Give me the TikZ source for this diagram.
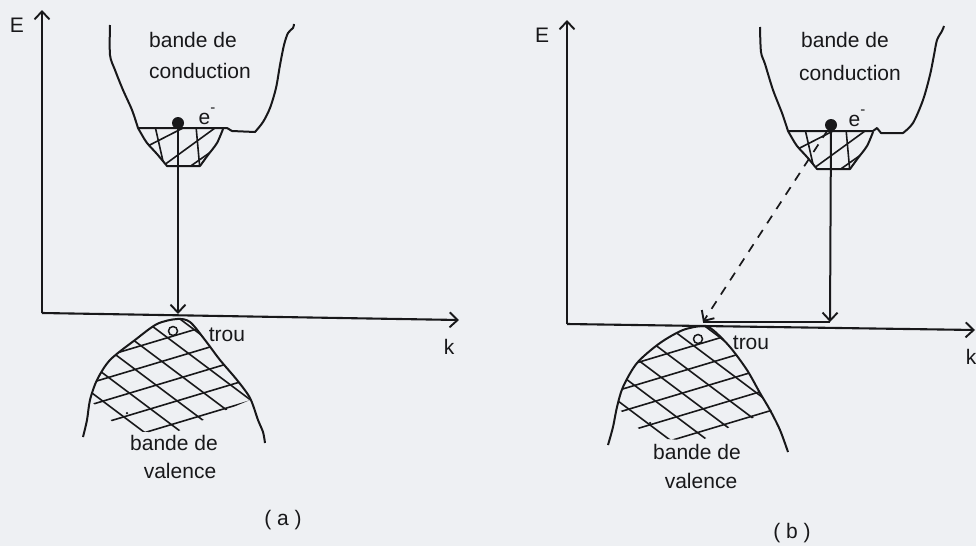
\documentclass[tikz,border=0pt]{standalone}
\usepackage{fontspec}
\setmainfont{Liberation Sans}
\usetikzlibrary{arrows.meta}
\definecolor{bgc}{RGB}{238,240,243}
\definecolor{ink}{RGB}{24,24,26}
\newcommand{\drawpocket}[2]{%
  \begin{scope}[shift={(#1,#2)}]
    \begin{scope}
      \clip plot[smooth] coordinates {(0,0) (4,7) (9,15) (19,26) (29,38)} -- (62,38) -- plot[smooth] coordinates {(62,38) (70,27) (79,15) (85,1)} -- cycle;
      \draw[hatch] (2,22) -- (47,-1);
      \draw[hatch] (22,40) -- (77,0);
      \draw[hatch] (47,42) -- (97,7);
      \draw[hatch] (17,-2) -- (27,42);
      \draw[hatch] (58,-2) -- (62,42);
    \end{scope}
    \draw[band] plot[smooth] coordinates {(0,0) (4,7) (9,15) (19,26) (29,38)} -- (62,38) -- plot[smooth] coordinates {(62,38) (70,27) (79,15) (85,1)};
  \end{scope}}
\newcommand{\valgrid}{%
  \foreach \c in {300,322,...,560} \draw[hatch] (60,\c-18) -- (300,\c-90);
  \foreach \c in {100,128,...,420} \draw[hatch] (60,\c+45) -- (300,\c+225);}
\begin{document}
\begin{tikzpicture}[x=1pt,y=-1pt,color=ink,
  band/.style={line width=2pt, line join=round},
  axis/.style={line width=2.1pt},
  hatch/.style={line width=1.6pt},
  barb/.style={-{Straight Barb[length=8pt,width=15pt,line width=1.9pt]}},
  dashline/.style={line width=1.7pt, dash pattern=on 9pt off 8pt},
  lab/.style={font=\fontsize{21}{24}\selectfont, inner sep=0pt, text=ink},
  dotn/.style={circle, fill=ink, inner sep=0pt, minimum size=12pt},
  holen/.style={circle, draw=ink, line width=1.5pt, inner sep=0pt, minimum size=9pt},
  speck/.style={circle, fill=ink, inner sep=0pt, minimum size=2.5pt}]
\fill[bgc] (0,0) rectangle (976,546);
\useasboundingbox (0,0) rectangle (976,546);

% ---------------- panel (a) ----------------
\coordinate (Oa) at (42,313);
\coordinate (Ea) at (42,10);
\coordinate (Ka) at (459,320);
\draw[axis,barb] (Oa) -- (Ea);
\draw[axis,barb] (Oa) -- (Ka);
\node[lab] (Ela) at (17,25) {E};
\node[lab] (kla) at (449,347) {k};

% conduction band (a)
\draw[band] plot[smooth, tension=0.5] coordinates {(110,25) (110,55) (115,70) (123,90) (132,110) (138,128)}
  -- (227,128) -- (232,131) -- (255,132)
  -- plot[smooth, tension=0.5] coordinates {(255,132) (263,122) (270,108) (276,88) (280,65) (284,45) (288,33) (293,28) (294,24)};
\drawpocket{138}{128}
\node[lab] (bca1) at (193,40) {bande de};
\node[lab] (bca2) at (200,71) {conduction};
\node[dotn] (ea) at (178,123) {};
\node[lab] (ema) at (207,116) {e\raisebox{1.1ex}{\fontsize{15}{15}\selectfont -}};
\coordinate (ta) at (178,314);
\draw[band,barb] (ea) -- (ta);

% valence band (a)
\begin{scope}
  \clip plot[smooth] coordinates {(90,400) (97,380) (110,360) (135,340) (157,324) (177,319) (190,322) (205,340) (220,360) (237,380) (250,400)} -- (219,413) -- (174,433) -- (122,431) -- cycle;
  \valgrid
\end{scope}
\draw[band] plot[smooth] coordinates {(83,437) (87,420) (90,400) (97,380) (110,360) (135,340) (157,324) (177,319) (190,322) (205,340) (220,360) (237,380) (250,398) (258,420) (263,432) (265,443)};
\node[holen] (ha) at (173,331) {};
\node[speck] (spa) at (127,413) {};
\node[lab] (tra) at (227,335) {trou};
\node[lab] (bva1) at (174,443) {bande de};
\node[lab] (bva2) at (180,471) {valence};
\node[lab] (pa) at (283,520) {( a )};

% ---------------- panel (b) ----------------
\coordinate (Ob) at (567,324);
\coordinate (Eb) at (567,20);
\coordinate (Kb) at (975,330);
\draw[axis,barb] (Ob) -- (Eb);
\draw[axis,barb] (Ob) -- (Kb);
\node[lab] (Elb) at (542,35) {E};
\node[lab] (klb) at (971,357) {k};

% conduction band (b)
\draw[band] plot[smooth, tension=0.5] coordinates {(760,27) (761,52) (765,64) (773,90) (782,113) (788,131)}
  -- (873,131) -- (877,128) -- (881,133) -- (903,133)
  -- plot[smooth, tension=0.5] coordinates {(903,133) (913,123) (923,100) (930,75) (934,55) (937,40) (942,31) (944,26)};
\drawpocket{788}{131}
\node[lab] (bcb1) at (845,40) {bande de};
\node[lab] (bcb2) at (850,73) {conduction};
\node[dotn] (eb) at (831,125) {};
\node[lab] (emb) at (857,118) {e\raisebox{1.1ex}{\fontsize{15}{15}\selectfont -}};
\coordinate (tb) at (830,322);
\coordinate (hb) at (703,322);
\draw[band,barb] (eb) -- (tb);
\draw[band] (hb) -- (tb);
\draw[dashline,barb] (eb) -- (hb);

% valence band (b)
\begin{scope}
  \clip plot[smooth] coordinates {(617,407) (623,387) (637,363) (660,343) (683,330) (703,326) (713,330) (730,347) (747,370) (760,393) (773,413)} -- (745,420) -- (700,441) -- (648,438) -- cycle;
  \begin{scope}[shift={(526,8)}]
    \valgrid
  \end{scope}
\end{scope}
\draw[band] plot[smooth] coordinates {(608,445) (613,427) (617,407) (623,387) (637,363) (660,343) (683,330) (703,326) (713,330) (730,347) (747,370) (760,393) (770,410) (780,430) (788,452)};
\node[holen] (hb2) at (698,339) {};
\node[speck] (spb) at (650,423) {};
\node[lab] (trb) at (751,343) {trou};
\node[lab] (bvb1) at (697,452) {bande de};
\node[lab] (bvb2) at (701,481) {valence};
\node[lab] (pb) at (792,533) {( b )};
\end{tikzpicture}
\end{document}
